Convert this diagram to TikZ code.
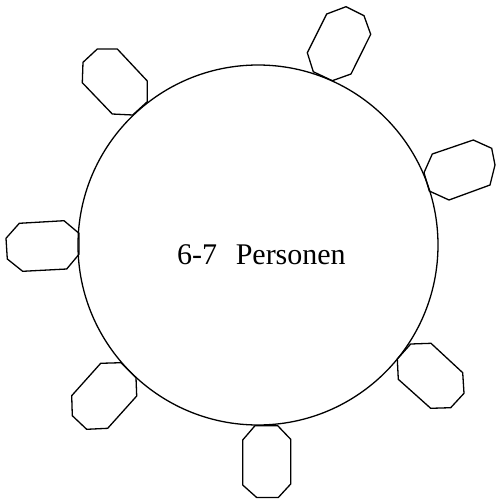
\documentclass[tikz,border=0pt]{standalone}
\usepackage{fontspec}
\setmainfont{Liberation Serif}
\begin{document}
\begin{tikzpicture}[x=1pt,y=-1pt,
  chair/.style={draw=black,line width=1.3pt,line join=miter},
  tablecircle/.style={draw=black,line width=1.3pt},
  label/.style={font=\fontsize{30}{36}\selectfont,inner sep=0pt,anchor=base west}]
\useasboundingbox (0,0) rectangle (496,499);
% table
\draw[tablecircle] (258,245) circle[radius=180];
\node[label] (txt) at (177,264) {6-7\hspace{0.62em}Personen};
% chairs
\draw[chair] (326.7,14) -- (346,6.7) -- (364,15.7) -- (370.7,34.3) -- (351,74) -- (332.3,80.7) -- (313.3,71.7) -- (307.3,52.7) -- cycle;
\draw[chair] (97.3,49) -- (117.3,49) -- (147.3,81) -- (147.3,101.7) -- (132.7,115) -- (112.3,114) -- (82.3,82.7) -- (83,62.3) -- cycle;
\draw[chair] (432.3,154) -- (473.3,140) -- (491.7,148.3) -- (495,165) -- (490,185) -- (449,200) -- (429.3,191) -- (424,172.7) -- cycle;
\draw[chair] (19.3,223.3) -- (64,220.7) -- (79,233.3) -- (79,254.3) -- (66.7,269) -- (22.7,271.3) -- (7.3,259) -- (6,238.3) -- cycle;
\draw[chair] (410.7,344) -- (431,343.3) -- (462.7,372.7) -- (464,393.3) -- (450.7,407.7) -- (430.7,408.3) -- (398.3,379.3) -- (397.3,359) -- cycle;
\draw[chair] (100.7,363.3) -- (121,362.7) -- (136,377.7) -- (136.7,396) -- (107.7,428.3) -- (86.7,429.3) -- (72.3,415.7) -- (71.7,395.7) -- cycle;
\draw[chair] (255,425.7) -- (277.7,425.7) -- (290.7,439.3) -- (290.7,484) -- (278.3,497.5) -- (256.7,497.5) -- (242.7,485) -- (242.7,440) -- cycle;
\end{tikzpicture}
\end{document}
